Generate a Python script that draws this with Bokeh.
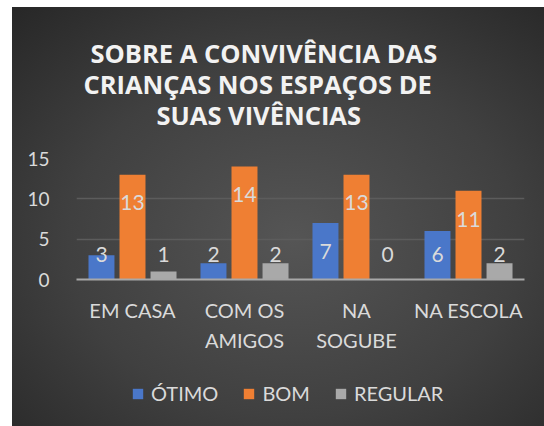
from bokeh.plotting import figure
from bokeh.layouts import column
from bokeh.models import ColumnDataSource, FactorRange, Legend, LegendItem, InlineStyleSheet, Title
from bokeh.transform import dodge
from bokeh.core.properties import value
from bokeh.embed import file_html
from bokeh.resources import INLINE

# ---- data ----
categories = ["EM CASA", "COM OS\nAMIGOS", "NA\nSOGUBE", "NA ESCOLA"]
series = ["ÓTIMO", "BOM", "REGULAR"]
otimo = [3, 2, 7, 6]
bom = [13, 14, 13, 11]
regular = [1, 2, 0, 2]
y_ticks = [0, 5, 10, 15]
title_lines = ["SOBRE A CONVIVÊNCIA DAS", "CRIANÇAS NOS ESPAÇOS DE", "SUAS VIVÊNCIAS"]

colors = ["#4a77c9", "#ef7f33", "#a9a9a9"]
values_by_series = [otimo, bom, regular]
offsets = [-0.277, 0.0, 0.277]
title_offsets = [14, 7, 80]   # horizontal placement of each title line (px from frame left)
FONT = "Lato"
TXT = "#dadada"

p = figure(frame_width=448, frame_height=121,
           x_range=FactorRange(*categories), y_range=(0, 15),
           output_backend="svg", toolbar_location=None,
           min_border_left=76, min_border_right=20, min_border_top=158, min_border_bottom=73)
p.background_fill_color = None
p.border_fill_color = None
p.outline_line_color = None

# title: spacer nearest the frame, then one Title per line (stacked outward)
p.title.text = ""
p.title.visible = False
p.add_layout(Title(text=" ", text_font_size="1px", standoff=26), "above")
for line, off in reversed(list(zip(title_lines, title_offsets))):
    t = Title(text=line, align="left", offset=off, text_font="Open Sans", text_font_size="25.5px",
              text_font_style="bold", text_color="#f2f2f2", standoff=-5)
    p.add_layout(t, "above")

# grid
p.xgrid.grid_line_color = None
p.ygrid.ticker = y_ticks
p.ygrid.grid_line_color = "#5c5c5c"
p.ygrid.grid_line_width = 1.5

# y axis
p.yaxis.ticker = y_ticks
p.yaxis.axis_line_color = None
p.yaxis.major_tick_line_color = None
p.yaxis.minor_tick_line_color = None
p.yaxis.major_label_text_font = FONT
p.yaxis.major_label_text_font_size = "19px"
p.yaxis.major_label_text_color = TXT
p.yaxis.major_label_standoff = 21

# x axis
p.xaxis.axis_line_color = "#a8a8a8"
p.xaxis.axis_line_width = 2
p.xaxis.major_tick_line_color = None
p.xaxis.minor_tick_line_color = None
p.xaxis.major_label_text_font = FONT
p.xaxis.major_label_text_font_size = "20px"
p.xaxis.major_label_text_color = TXT
p.xaxis.major_label_standoff = 12
p.xaxis.major_label_text_line_height = 1.25

sources = []
for name, vals, col, off in zip(series, values_by_series, colors, offsets):
    lab_y = [max(v - 3.5, 3.1) for v in vals]
    src = ColumnDataSource(dict(cat=categories, val=vals, lab=[str(v) for v in vals], lab_y=lab_y))
    sources.append(src)
    p.vbar(x=dodge("cat", off, range=p.x_range), top="val", bottom=0, width=0.232,
           source=src, fill_color=col, line_color=None)
    p.text(x=dodge("cat", off, range=p.x_range), y="lab_y", text="lab", source=src,
           text_font=value(FONT), text_font_size="21px", text_color=TXT,
           text_align="center", text_baseline="middle")

# legend strip below the chart (its bars lie outside its visible y range)
q = figure(width=544, height=74, x_range=p.x_range, y_range=(100, 101),
           x_axis_location=None, y_axis_location=None,
           output_backend="svg", toolbar_location=None, min_border=0)
q.grid.visible = False
q.background_fill_color = None
q.border_fill_color = None
q.outline_line_color = None
items = []
for name, src, col, off in zip(series, sources, colors, offsets):
    r = q.vbar(x=dodge("cat", off, range=q.x_range), top="val", bottom=0, width=0.232,
               source=src, fill_color=col, line_color=None)
    items.append(LegendItem(label=name, renderers=[r]))
legend = Legend(items=items, orientation="horizontal", location=(55, 23),
                padding=0, margin=0, spacing=24, label_standoff=7,
                glyph_width=13, glyph_height=13,
                label_text_font=FONT, label_text_font_size="20px", label_text_color=TXT,
                background_fill_alpha=0, border_line_color=None)
q.add_layout(legend, "center")

layout = column(p, q, spacing=0, stylesheets=[InlineStyleSheet(css=(
    ":host { background:"
    " linear-gradient(#ffffff, #ffffff) left top / 12px 100% no-repeat,"
    " linear-gradient(#ffffff, #ffffff) left top / 100% 7px no-repeat,"
    " radial-gradient(ellipse 75% 75% at 54% 56%, #555555 0%, #404040 55%, #272727 100%); }"))])

open("out.html", "w").write(file_html(layout, INLINE))
